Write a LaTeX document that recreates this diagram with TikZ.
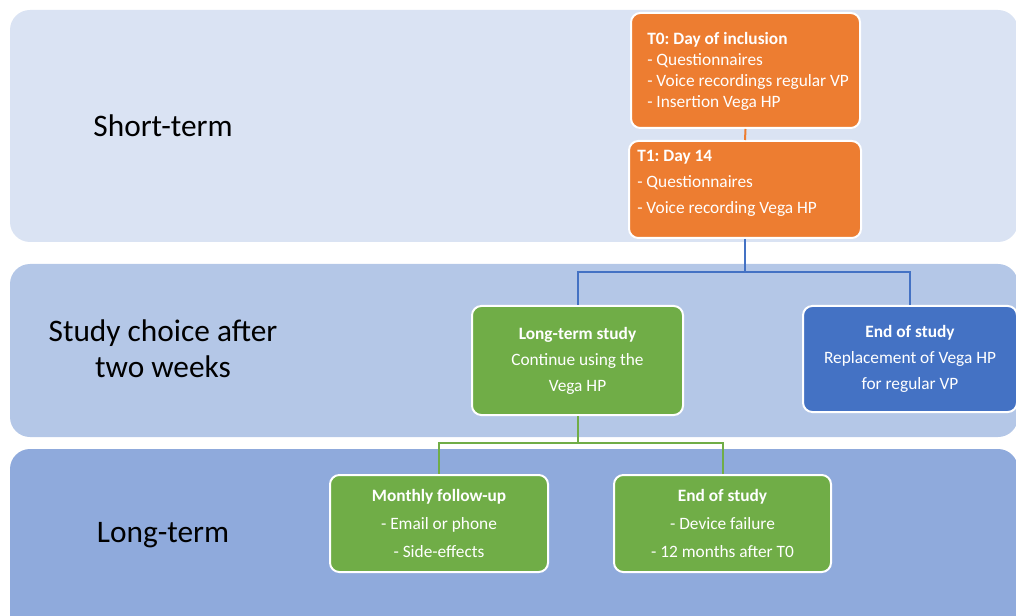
\documentclass[tikz,border=0pt]{standalone}
\usepackage{fontspec}
\setmainfont{Carlito}
\frenchspacing
\definecolor{bandA}{HTML}{DAE3F3}
\definecolor{bandB}{HTML}{B4C7E7}
\definecolor{bandC}{HTML}{8FAADC}
\definecolor{orng}{HTML}{ED7D31}
\definecolor{grn}{HTML}{70AD47}
\definecolor{blu}{HTML}{4472C4}
\begin{document}
\begin{tikzpicture}[x=0.75pt,y=-0.75pt,
  band/.style={rounded corners=15pt},
  box/.style={draw=white, line width=1.5pt, rounded corners=7pt, inner sep=0pt},
  boxtxt/.style={text=white, inner sep=0pt, font=\fontsize{13}{19.5}\selectfont},
  lbl/.style={font=\fontsize{23.5}{27}\selectfont, align=center, text=black, inner sep=0pt},
  conn/.style={line width=1.5pt}]
\clip (0,0) rectangle (1016,616);
% bands
\fill[bandA, band] (10,10) rectangle (1018,242);
\fill[bandB, band] (10,264) rectangle (1018,437);
\fill[bandC, band] (10,449) rectangle (1018,640);
% band labels
\node[lbl] (lshort) at (163,126) {Short-term};
\node[lbl] (lchoice) at (163,349) {Study choice after\\two weeks};
\node[lbl] (llong) at (163,535) {Long-term};
% boxes
\node[box, fill=orng, minimum width=171.75pt, minimum height=86.25pt] (T0) at (745.5,70.5) {};
\node[box, fill=orng, minimum width=174pt, minimum height=72.75pt] (T1) at (745,189.5) {};
\node[box, fill=grn, minimum width=158.25pt, minimum height=81.75pt] (LT) at (577.5,360.5) {};
\node[box, fill=blu, minimum width=160.5pt, minimum height=79.5pt] (EA) at (910,359) {};
\node[box, fill=grn, minimum width=163.5pt, minimum height=72.75pt] (MF) at (439,523.5) {};
\node[box, fill=grn, minimum width=162.75pt, minimum height=72.75pt] (EB) at (722.5,523.5) {};
% texts
\node[boxtxt, anchor=west, align=left, font=\fontsize{13}{15.75}\selectfont] (T0t) at (647,71.5)
  {\textbf{T0: Day of inclusion}\\- Questionnaires\\- Voice recordings regular VP\\- Insertion Vega HP};
\node[boxtxt, anchor=west, align=left] (T1t) at (637,183.5)
  {\textbf{T1: Day 14}\\- Questionnaires\\- Voice recording Vega HP};
\node[boxtxt, align=center] (LTt) at (LT.center)
  {\textbf{Long-term study}\\Continue using the\\Vega HP};
\node[boxtxt, align=center] (EAt) at (EA.center)
  {\textbf{End of study}\\Replacement of Vega HP\\for regular VP};
\node[boxtxt, align=center, font=\fontsize{13}{21}\selectfont] (MFt) at (MF.center)
  {\textbf{Monthly follow-up}\\- Email or phone\\- Side-effects};
\node[boxtxt, align=center, font=\fontsize{13}{21}\selectfont] (EBt) at (EB.center)
  {\textbf{End of study}\\- Device failure\\- 12 months after T0};
% connectors
\draw[conn, orng] (T0.south) -- (T1.north);
\coordinate (bj) at (745,272);
\draw[conn, blu] (T1.south) -- (bj);
\draw[conn, blu] (bj) -| (LT.north);
\draw[conn, blu] (bj) -| (EA.north);
\coordinate (gj) at (577.5,443);
\draw[conn, grn] (LT.south) -- (gj);
\draw[conn, grn] (gj) -| (MF.north);
\draw[conn, grn] (gj) -| (EB.north);
\end{tikzpicture}
\end{document}
